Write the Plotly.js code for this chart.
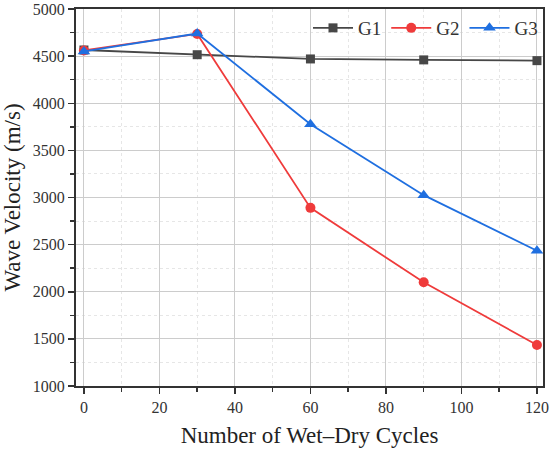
<!DOCTYPE html>
<html><head><meta charset="utf-8">
<script src="https://cdn.plot.ly/plotly-3.0.1.min.js"></script>
<style>body{margin:0;padding:0;background:#fff}#c{width:550px;height:449px}</style>
</head><body><div id="c"></div>
<script>
const cycles = [0, 30, 60, 90, 120];
const g1 = [4565, 4515, 4470, 4460, 4452];
const g2 = [4560, 4735, 2890, 2100, 1435];
const g3 = [4550, 4740, 3778, 3025, 2435];
const seriesNames = ['G1', 'G2', 'G3'];

const font = 'Liberation Serif, Times New Roman, serif';
const traces = [
  {x: cycles, y: g1, name: seriesNames[0], mode: 'lines+markers',
   line: {color: '#474747', width: 1.8}, marker: {symbol: 'square', size: 9, color: '#474747'}},
  {x: cycles, y: g2, name: seriesNames[1], mode: 'lines+markers',
   line: {color: '#ef3b3b', width: 1.8}, marker: {symbol: 'circle', size: 10, color: '#ef3b3b'}},
  {x: cycles, y: g3, name: seriesNames[2], mode: 'lines+markers',
   line: {color: '#1f6fe0', width: 1.8}, marker: {symbol: 'triangle-up', size: 11, color: '#1f6fe0'}}
];
const layout = {
  width: 550, height: 449,
  margin: {l: 76, r: 7, t: 9, b: 63},
  paper_bgcolor: '#fff', plot_bgcolor: '#fff',
  font: {family: font, color: '#222', size: 16},
  showlegend: true,
  legend: {orientation: 'h', x: 1.0, xanchor: 'right', y: 1.0, yanchor: 'top',
           font: {size: 19, family: font, color: '#333'}, bgcolor: 'rgba(0,0,0,0)', itemwidth: 40, tracegroupgap: 0},
  xaxis: {
    range: [-2.1, 121.6], dtick: 20, tick0: 0,
    showline: true, linecolor: '#333', linewidth: 2, mirror: true,
    ticks: 'outside', ticklen: 6, tickwidth: 1.5, tickcolor: '#333',
    showgrid: true, gridcolor: '#cccccc', gridwidth: 1, zeroline: false,
    tickfont: {size: 16, family: font, color: '#333'},
    minor: {dtick: 10, showgrid: true, gridcolor: '#e6e6e6', griddash: 'dot', ticks: 'outside', ticklen: 4, tickcolor: '#333'},
    title: {text: 'Number of Wet\u2013Dry Cycles', font: {size: 23, family: font, color: '#222'}, standoff: 12}
  },
  yaxis: {
    range: [1000, 5000], dtick: 500, tick0: 1000,
    showline: true, linecolor: '#333', linewidth: 2, mirror: true,
    ticks: 'outside', ticklen: 6, tickwidth: 1.5, tickcolor: '#333',
    showgrid: true, gridcolor: '#cccccc', gridwidth: 1, zeroline: false,
    tickfont: {size: 16, family: font, color: '#333'},
    minor: {dtick: 250, showgrid: true, gridcolor: '#e6e6e6', griddash: 'dot', ticks: 'outside', ticklen: 4, tickcolor: '#333'},
    title: {text: 'Wave Velocity (m/s)', font: {size: 23, family: font, color: '#222'}, standoff: 8}
  }
};
Plotly.newPlot('c', traces, layout, {displayModeBar: false, staticPlot: true});
</script></body></html>
